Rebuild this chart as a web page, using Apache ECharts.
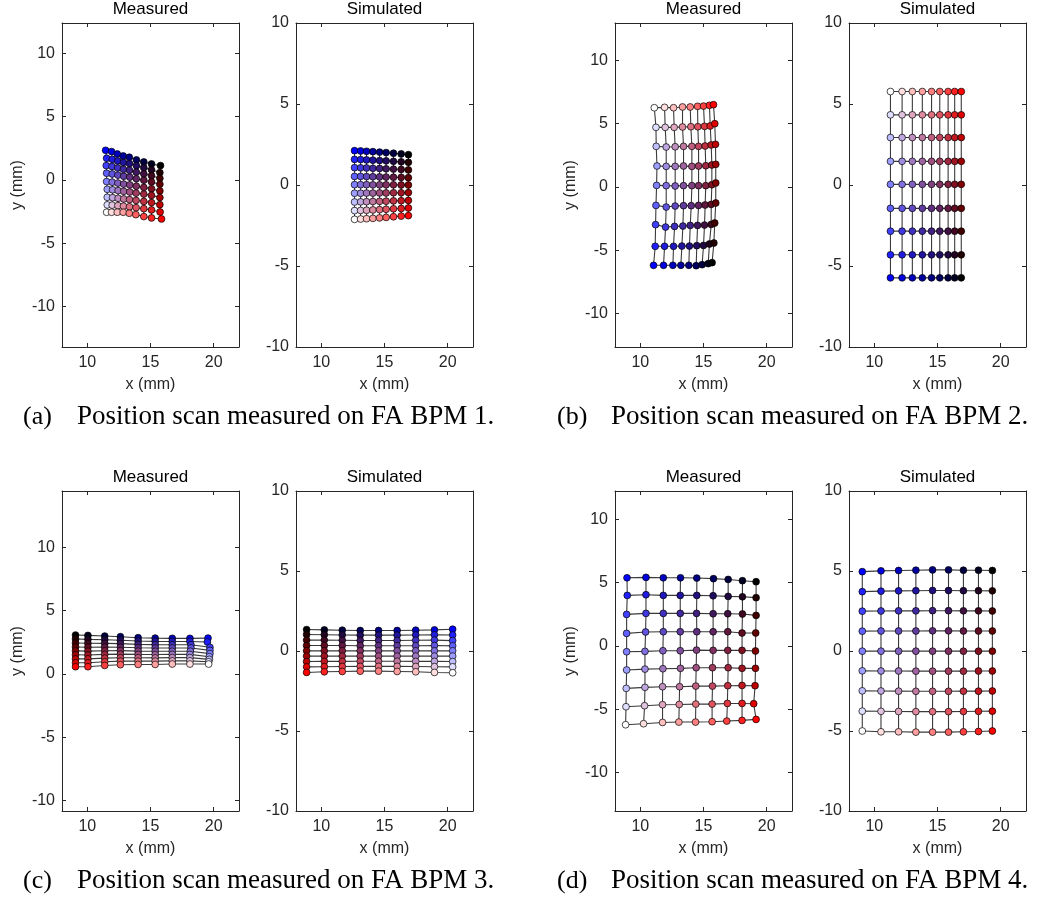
<!DOCTYPE html>
<html lang="en">
<head>
    <meta charset="UTF-8">
    <title>Position scans on FA BPMs</title>
    <script src="https://cdn.jsdelivr.net/npm/echarts@6/dist/echarts.min.js"></script>
    <style>
        * {
            margin: 0;
            padding: 0
        }

        html, body {
            width: 100%;
            height: 100%;
            background: #fff;
        }

        #main {
            width: 1052px;
            height: 900px;
        }
    </style>
</head>
<body>
<div id="main"></div>
<script type="text/javascript">
    /*-------------------- data (mm) --------------------*/
    var xTicks = [10, 15, 20];
    var yTicks = [-10, -5, 0, 5, 10];

    // (a) BPM 1, measured: one row per line of the scan, top to bottom
    var aMeasX = [
        [11.45, 11.92, 12.37, 12.84, 13.32, 13.89, 14.47, 15.08, 15.79],
        [11.53, 11.97, 12.40, 12.86, 13.34, 13.89, 14.47, 15.08, 15.74],
        [11.50, 11.95, 12.40, 12.86, 13.34, 13.88, 14.47, 15.08, 15.74],
        [11.53, 11.97, 12.42, 12.88, 13.36, 13.88, 14.47, 15.08, 15.74],
        [11.53, 11.97, 12.42, 12.88, 13.36, 13.88, 14.47, 15.08, 15.74],
        [11.58, 12.00, 12.44, 12.88, 13.36, 13.86, 14.47, 15.08, 15.74],
        [11.58, 12.00, 12.44, 12.88, 13.34, 13.86, 14.47, 15.08, 15.74],
        [11.58, 11.97, 12.42, 12.86, 13.34, 13.86, 14.47, 15.08, 15.76],
        [11.53, 11.92, 12.37, 12.84, 13.32, 13.84, 14.47, 15.08, 15.87]
    ];
    var aMeasY = [
        [2.34, 2.24, 2.05, 1.89, 1.79, 1.58, 1.42, 1.26, 1.13],
        [1.71, 1.63, 1.50, 1.38, 1.29, 1.12, 0.97, 0.80, 0.58],
        [1.13, 1.06, 0.95, 0.84, 0.76, 0.61, 0.48, 0.33, 0.13],
        [0.53, 0.47, 0.38, 0.29, 0.22, 0.09, -0.02, -0.16, -0.34],
        [-0.13, -0.18, -0.25, -0.33, -0.39, -0.49, -0.59, -0.70, -0.87],
        [-0.74, -0.78, -0.84, -0.90, -0.95, -1.04, -1.12, -1.22, -1.39],
        [-1.37, -1.40, -1.45, -1.50, -1.55, -1.62, -1.70, -1.79, -1.95],
        [-1.97, -1.99, -2.03, -2.07, -2.12, -2.19, -2.27, -2.37, -2.53],
        [-2.55, -2.55, -2.55, -2.55, -2.63, -2.74, -2.89, -3.00, -3.08]
    ];
    // (a) BPM 1, simulated: x per column, y per point
    var aSimX = [12.63, 13.11, 13.58, 14.08, 14.61, 15.13, 15.71, 16.32, 16.89];
    var aSimY = [
        [2.12, 2.10, 2.08, 2.06, 2.03, 2.00, 1.96, 1.92, 1.87],
        [1.58, 1.57, 1.55, 1.53, 1.51, 1.49, 1.46, 1.43, 1.40],
        [1.07, 1.06, 1.05, 1.03, 1.02, 1.00, 0.98, 0.96, 0.93],
        [0.53, 0.53, 0.52, 0.51, 0.50, 0.49, 0.48, 0.47, 0.45],
        [0.02, 0.02, 0.02, 0.01, 0.01, 0.01, 0.01, 0.00, 0.00],
        [-0.51, -0.51, -0.50, -0.50, -0.49, -0.49, -0.48, -0.48, -0.47],
        [-1.05, -1.04, -1.03, -1.02, -1.01, -1.00, -0.98, -0.97, -0.95],
        [-1.58, -1.57, -1.56, -1.54, -1.52, -1.50, -1.47, -1.45, -1.42],
        [-2.12, -2.10, -2.08, -2.06, -2.03, -2.00, -1.96, -1.92, -1.89]
    ];

    // (b) BPM 2
    var bMeasX = [
        [11.11, 11.92, 12.63, 13.34, 13.95, 14.53, 15.00, 15.47, 15.79],
        [11.24, 11.97, 12.68, 13.34, 14.00, 14.55, 15.08, 15.53, 15.89],
        [11.26, 12.05, 12.76, 13.42, 14.08, 14.61, 15.13, 15.61, 15.95],
        [11.32, 12.05, 12.76, 13.42, 14.08, 14.61, 15.18, 15.66, 15.97],
        [11.29, 12.05, 12.76, 13.42, 14.08, 14.61, 15.18, 15.66, 15.97],
        [11.24, 12.05, 12.76, 13.42, 14.03, 14.61, 15.13, 15.61, 15.97],
        [11.21, 12.00, 12.71, 13.37, 13.95, 14.53, 15.08, 15.61, 15.89],
        [11.18, 11.92, 12.63, 13.29, 13.89, 14.47, 15.00, 15.47, 15.82],
        [11.05, 11.84, 12.58, 13.21, 13.84, 14.42, 14.89, 15.37, 15.68]
    ];
    var bMeasY = [
        [6.26, 6.29, 6.26, 6.32, 6.32, 6.37, 6.39, 6.45, 6.50],
        [4.71, 4.71, 4.71, 4.74, 4.76, 4.76, 4.79, 4.82, 5.00],
        [3.21, 3.16, 3.18, 3.21, 3.21, 3.21, 3.24, 3.32, 3.37],
        [1.66, 1.63, 1.63, 1.66, 1.63, 1.66, 1.68, 1.74, 1.79],
        [0.13, 0.11, 0.08, 0.11, 0.11, 0.11, 0.11, 0.18, 0.32],
        [-1.45, -1.58, -1.50, -1.47, -1.47, -1.45, -1.42, -1.37, -1.26],
        [-2.97, -3.16, -3.11, -3.08, -3.03, -3.03, -3.00, -2.95, -2.84],
        [-4.68, -4.68, -4.68, -4.66, -4.66, -4.63, -4.61, -4.50, -4.42],
        [-6.18, -6.18, -6.18, -6.18, -6.18, -6.21, -6.13, -6.05, -5.97]
    ];
    var bSimX = [11.28, 12.20, 13.01, 13.80, 14.53, 15.18, 15.84, 16.36, 16.88];
    var bSimY = [5.77, 4.33, 2.93, 1.46, 0.04, -1.44, -2.85, -4.31, -5.73];

    // (c) BPM 3
    var cMeasX = [
        [9.07, 10.05, 11.38, 12.62, 14.02, 15.37, 16.72, 18.12, 19.55],
        [9.07, 10.05, 11.38, 12.62, 14.02, 15.37, 16.72, 18.12, 19.50],
        [9.07, 10.05, 11.38, 12.62, 14.02, 15.37, 16.72, 18.20, 19.70],
        [9.07, 10.05, 11.38, 12.62, 14.02, 15.37, 16.72, 18.20, 19.70],
        [9.07, 10.05, 11.38, 12.62, 14.02, 15.37, 16.72, 18.15, 19.70],
        [9.07, 10.05, 11.38, 12.62, 14.02, 15.37, 16.72, 18.12, 19.65],
        [9.07, 10.05, 11.38, 12.62, 14.02, 15.37, 16.72, 18.12, 19.65],
        [9.07, 10.05, 11.38, 12.62, 14.02, 15.37, 16.72, 18.12, 19.60],
        [9.07, 10.05, 11.38, 12.62, 14.02, 15.37, 16.72, 18.12, 19.60]
    ];
    var cMeasY = [
        [3.08, 3.05, 3.00, 2.95, 2.87, 2.84, 2.82, 2.82, 2.84],
        [2.77, 2.74, 2.71, 2.67, 2.61, 2.58, 2.57, 2.57, 2.53],
        [2.45, 2.43, 2.42, 2.40, 2.34, 2.32, 2.31, 2.31, 2.11],
        [2.14, 2.12, 2.13, 2.12, 2.08, 2.06, 2.06, 2.06, 1.87],
        [1.83, 1.81, 1.84, 1.85, 1.81, 1.80, 1.80, 1.80, 1.61],
        [1.52, 1.50, 1.55, 1.57, 1.55, 1.54, 1.55, 1.55, 1.37],
        [1.20, 1.20, 1.26, 1.29, 1.29, 1.28, 1.30, 1.30, 1.16],
        [0.89, 0.89, 0.97, 1.02, 1.02, 1.02, 1.04, 1.04, 0.97],
        [0.58, 0.58, 0.68, 0.74, 0.76, 0.76, 0.79, 0.79, 0.79]
    ];
    var cSimX = [8.84, 10.24, 11.66, 13.08, 14.53, 16.00, 17.47, 18.95, 20.39];
    var cSimY = [
        [1.34, 1.32, 1.30, 1.28, 1.28, 1.28, 1.30, 1.32, 1.36],
        [1.03, 1.02, 1.00, 0.99, 0.99, 0.99, 1.00, 1.01, 1.00],
        [0.68, 0.68, 0.67, 0.66, 0.66, 0.66, 0.67, 0.68, 0.65],
        [0.34, 0.34, 0.34, 0.33, 0.33, 0.33, 0.33, 0.34, 0.32],
        [0.01, 0.01, 0.01, 0.01, 0.01, 0.01, 0.01, 0.01, 0.01],
        [-0.32, -0.32, -0.32, -0.32, -0.32, -0.32, -0.32, -0.32, -0.32],
        [-0.66, -0.65, -0.65, -0.64, -0.64, -0.64, -0.65, -0.65, -0.66],
        [-0.99, -0.98, -0.97, -0.96, -0.96, -0.96, -0.97, -0.98, -0.99],
        [-1.34, -1.30, -1.28, -1.26, -1.26, -1.28, -1.30, -1.34, -1.36]
    ];

    // (d) BPM 4
    var dMeasX = [
        [8.95, 10.45, 11.82, 13.18, 14.47, 15.79, 16.95, 18.08, 19.16],
        [8.97, 10.45, 11.82, 13.16, 14.47, 15.76, 16.95, 18.08, 19.16],
        [8.92, 10.45, 11.82, 13.16, 14.45, 15.76, 16.92, 18.08, 19.16],
        [8.92, 10.42, 11.82, 13.16, 14.47, 15.76, 16.92, 18.05, 19.13],
        [8.92, 10.37, 11.79, 13.16, 14.45, 15.76, 16.92, 18.05, 19.11],
        [8.92, 10.37, 11.79, 13.18, 14.42, 15.71, 16.95, 18.05, 19.11],
        [8.89, 10.37, 11.76, 13.11, 14.39, 15.71, 16.92, 18.05, 19.08],
        [8.87, 10.34, 11.76, 13.08, 14.39, 15.68, 16.89, 18.05, 18.97],
        [8.84, 10.26, 11.76, 13.05, 14.37, 15.68, 16.84, 18.05, 19.16]
    ];
    var dMeasY = [
        [5.39, 5.42, 5.39, 5.39, 5.37, 5.32, 5.26, 5.16, 5.08],
        [4.00, 4.05, 4.00, 4.00, 4.00, 3.97, 3.92, 3.89, 3.82],
        [2.50, 2.58, 2.58, 2.58, 2.58, 2.55, 2.55, 2.53, 2.42],
        [1.00, 1.11, 1.13, 1.13, 1.13, 1.13, 1.13, 1.03, 1.03],
        [-0.45, -0.42, -0.37, -0.37, -0.32, -0.34, -0.34, -0.34, -0.39],
        [-1.89, -1.82, -1.79, -1.76, -1.71, -1.71, -1.71, -1.76, -1.76],
        [-3.34, -3.26, -3.21, -3.21, -3.16, -3.16, -3.13, -3.11, -3.13],
        [-4.79, -4.71, -4.63, -4.61, -4.58, -4.58, -4.53, -4.53, -4.55],
        [-6.21, -6.13, -6.03, -6.00, -6.00, -5.97, -5.92, -5.87, -5.79]
    ];
    var dSimX = [9.05, 10.53, 11.92, 13.29, 14.61, 15.87, 17.05, 18.24, 19.34];
    var dSimY = [
        [4.96, 5.01, 5.03, 5.05, 5.07, 5.07, 5.05, 5.05, 5.03],
        [3.71, 3.74, 3.76, 3.77, 3.78, 3.78, 3.77, 3.77, 3.76],
        [2.49, 2.50, 2.51, 2.51, 2.52, 2.52, 2.51, 2.51, 2.50],
        [1.24, 1.25, 1.25, 1.25, 1.26, 1.26, 1.25, 1.25, 1.25],
        [-0.01, -0.01, -0.01, -0.01, -0.01, -0.01, -0.01, -0.01, -0.01],
        [-1.24, -1.25, -1.25, -1.26, -1.26, -1.26, -1.26, -1.25, -1.25],
        [-2.49, -2.50, -2.51, -2.52, -2.52, -2.52, -2.51, -2.51, -2.50],
        [-3.76, -3.77, -3.78, -3.79, -3.79, -3.79, -3.78, -3.77, -3.76],
        [-5.00, -5.05, -5.05, -5.07, -5.07, -5.07, -5.05, -5.03, -5.00]
    ];

    var captions = [
        ['(a)', 'Position scan measured on FA BPM 1.'],
        ['(b)', 'Position scan measured on FA BPM 2.'],
        ['(c)', 'Position scan measured on FA BPM 3.'],
        ['(d)', 'Position scan measured on FA BPM 4.']
    ];

    /*-------------------- layout --------------------*/
    // flipU / flipV: which corner of the scan carries the blue end of the colour map
    var panels = [
        {title: 'Measured',  xs: aMeasX, ys: aMeasY, left: 62,  top: 23,  h: 324, ymin: -13.19, ymax: 12.39, yName: true,  flipU: false, flipV: false},
        {title: 'Simulated', xs: aSimX,  ys: aSimY,  left: 296, top: 23,  h: 324, ymin: -10,    ymax: 10,    yName: false, flipU: false, flipV: false},
        {title: 'Measured',  xs: bMeasX, ys: bMeasY, left: 615, top: 23,  h: 324, ymin: -12.63, ymax: 12.95, yName: true,  flipU: false, flipV: true},
        {title: 'Simulated', xs: bSimX,  ys: bSimY,  left: 849, top: 23,  h: 324, ymin: -10,    ymax: 10,    yName: false, flipU: false, flipV: true},
        {title: 'Measured',  xs: cMeasX, ys: cMeasY, left: 62,  top: 491, h: 320, ymin: -10.81, ymax: 14.45, yName: true,  flipU: true,  flipV: false},
        {title: 'Simulated', xs: cSimX,  ys: cSimY,  left: 296, top: 491, h: 320, ymin: -10,    ymax: 10,    yName: false, flipU: true,  flipV: false},
        {title: 'Measured',  xs: dMeasX, ys: dMeasY, left: 615, top: 491, h: 320, ymin: -13.02, ymax: 12.24, yName: true,  flipU: false, flipV: false},
        {title: 'Simulated', xs: dSimX,  ys: dSimY,  left: 849, top: 491, h: 320, ymin: -10,    ymax: 10,    yName: false, flipU: false, flipV: false}
    ];
    var boxW = 177;
    var axisColor = '#262626';
    var sans = 'Liberation Sans, Arial, sans-serif';
    var serif = 'Liberation Serif, Times New Roman, serif';

    // x arrays may be one value per column, y arrays one value per row
    function getX(xs, r, c) { return Array.isArray(xs[0]) ? xs[r][c] : xs[c]; }
    function getY(ys, r, c) { return Array.isArray(ys[0]) ? ys[r][c] : ys[r]; }

    function mapColor(u, v) {
        var r = Math.round(255 * v);
        var g = Math.round(255 * (1 - u) * v);
        var b = Math.round(255 * (1 - u));
        return 'rgb(' + r + ',' + g + ',' + b + ')';
    }

    var grids = [], xAxes = [], yAxes = [], series = [], graphics = [];

    panels.forEach(function (p, i) {
        grids.push({left: p.left, top: p.top, width: boxW, height: p.h, containLabel: false});

        ['bottom', 'top'].forEach(function (pos) {
            var main = pos === 'bottom';
            xAxes.push({
                type: 'value', gridIndex: i, position: pos, min: 8, max: 22,
                axisLine: {show: true, onZero: false, lineStyle: {color: axisColor, width: 1}},
                axisTick: {show: true, inside: true, length: 4, customValues: xTicks, lineStyle: {color: axisColor}},
                axisLabel: {show: main, customValues: xTicks, margin: 8, color: axisColor, fontSize: 16, fontFamily: sans},
                splitLine: {show: false},
                name: main ? 'x (mm)' : '', nameLocation: 'middle', nameGap: 30,
                nameTextStyle: {color: axisColor, fontSize: 16, fontFamily: sans}
            });
        });
        ['left', 'right'].forEach(function (pos) {
            var main = pos === 'left';
            yAxes.push({
                type: 'value', gridIndex: i, position: pos, min: p.ymin, max: p.ymax,
                axisLine: {show: true, onZero: false, lineStyle: {color: axisColor, width: 1}},
                axisTick: {show: true, inside: true, length: 4, customValues: yTicks, lineStyle: {color: axisColor}},
                axisLabel: {show: main, customValues: yTicks, margin: 7, color: axisColor, fontSize: 16, fontFamily: sans},
                splitLine: {show: false},
                name: (main && p.yName) ? 'y (mm)' : '', nameLocation: 'middle', nameGap: 36,
                nameTextStyle: {color: axisColor, fontSize: 16, fontFamily: sans}
            });
        });

        var nr = p.ys.length;
        var nc = Array.isArray(p.xs[0]) ? p.xs[0].length : p.xs.length;
        var r, c, pts;
        var lineBase = {
            type: 'line', xAxisIndex: 2 * i, yAxisIndex: 2 * i, symbol: 'none', silent: true,
            lineStyle: {color: '#3a3a3a', width: 1.1}, z: 1, animation: false
        };
        // scan lines along the rows
        for (r = 0; r < nr; r++) {
            pts = [];
            for (c = 0; c < nc; c++) pts.push([getX(p.xs, r, c), getY(p.ys, r, c)]);
            series.push(Object.assign({}, lineBase, {data: pts}));
        }
        // and along the columns
        for (c = 0; c < nc; c++) {
            pts = [];
            for (r = 0; r < nr; r++) pts.push([getX(p.xs, r, c), getY(p.ys, r, c)]);
            series.push(Object.assign({}, lineBase, {data: pts}));
        }
        // markers, coloured by scan index
        pts = [];
        for (r = 0; r < nr; r++) {
            for (c = 0; c < nc; c++) {
                var u = c / (nc - 1), v = r / (nr - 1);
                if (p.flipU) u = 1 - u;
                if (p.flipV) v = 1 - v;
                pts.push({value: [getX(p.xs, r, c), getY(p.ys, r, c)], itemStyle: {color: mapColor(u, v)}});
            }
        }
        series.push({
            type: 'scatter', xAxisIndex: 2 * i, yAxisIndex: 2 * i, data: pts, symbolSize: 6.8, silent: true,
            itemStyle: {borderColor: '#000', borderWidth: 0.7, opacity: 1}, z: 3, animation: false
        });

        graphics.push({
            type: 'text', x: p.left + boxW / 2, y: p.top - 13.5,
            style: {text: p.title, fill: '#000', fontSize: 17, fontFamily: sans, align: 'center', verticalAlign: 'middle'}
        });
    });

    // sub-figure captions
    var capPos = [[23, 417], [557, 417], [23, 881], [557, 881]];
    captions.forEach(function (cap, k) {
        graphics.push({
            type: 'text', x: capPos[k][0], y: capPos[k][1],
            style: {text: cap[0], fill: '#000', fontSize: 26, fontFamily: serif, align: 'left', verticalAlign: 'middle'}
        });
        graphics.push({
            type: 'text', x: capPos[k][0] + 54, y: capPos[k][1],
            style: {text: cap[1], fill: '#000', fontSize: 27, fontFamily: serif, align: 'left', verticalAlign: 'middle'}
        });
    });

    var myChart = echarts.init(document.getElementById('main'));
    myChart.setOption({
        backgroundColor: '#fff',
        animation: false,
        grid: grids,
        xAxis: xAxes,
        yAxis: yAxes,
        series: series,
        graphic: graphics
    });
</script>

</body>
</html>
